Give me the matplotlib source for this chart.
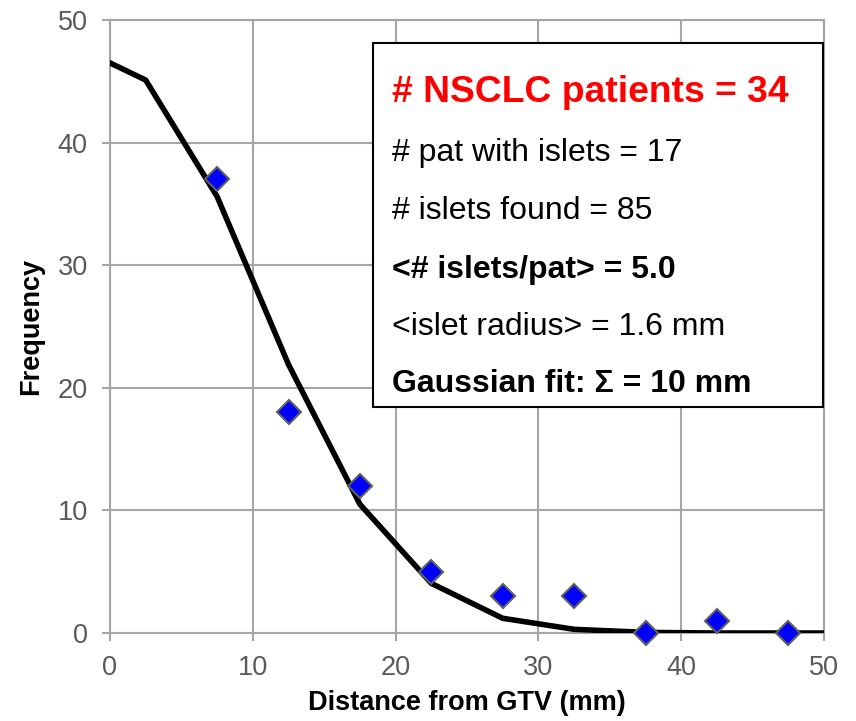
import matplotlib
matplotlib.use("Agg")
import matplotlib.pyplot as plt
from matplotlib.patches import Rectangle

plt.rcParams['font.family'] = ['Liberation Sans', 'DejaVu Sans']

# Gaussian fit line
fit_x = [0, 2.5, 7.5, 12.5, 17.5, 22.5, 27.5, 32.5, 37.5, 42.5, 47.5, 50]
fit_y = [46.5, 45.1, 35.6, 21.9, 10.5, 4.05, 1.2, 0.3, 0.05, 0.0, 0.0, 0.0]

# Measured frequencies
dist_x = [7.5, 12.5, 17.5, 22.5, 27.5, 32.5, 37.5, 42.5, 47.5]
freq_y = [37, 18, 12, 5, 3, 3, 0, 1, 0]

x_ticks = [0, 10, 20, 30, 40, 50]
y_ticks = [0, 10, 20, 30, 40, 50]

info_lines = [
    ("# NSCLC patients = 34", "bold", "#ff0000", 26.8),
    ("# pat with islets = 17", "normal", "black", 23),
    ("# islets found = 85", "normal", "black", 23),
    ("<# islets/pat> = 5.0", "bold", "black", 23),
    ("<islet radius> = 1.6 mm", "normal", "black", 23),
    ("Gaussian fit: \u03a3 = 10 mm", "bold", "black", 23),
]

fig = plt.figure(figsize=(8.56, 7.21), dpi=100)
ax = fig.add_axes([110/856, 88/721, 714/856, 613/721])

grid_c = "#a6a6a6"
ax.set_xlim(0, 50)
ax.set_ylim(0, 50)
ax.set_xticks(x_ticks)
ax.set_yticks(y_ticks)
ax.grid(True, color=grid_c, linewidth=1.5, zorder=0)
ax.set_axisbelow(True)
for s in ax.spines.values():
    s.set_color(grid_c)
    s.set_linewidth(1.5)
ax.tick_params(axis='both', direction='out', length=6, width=1.5, color=grid_c,
               labelcolor="#595959", labelsize=19.5, pad=10)

ax.plot(fit_x, fit_y, color="black", linewidth=4.0, zorder=3, solid_joinstyle='miter')
ax.plot(dist_x, freq_y, linestyle='none', marker='D', markersize=12.5,
        markerfacecolor="#0000ff", markeredgecolor="#606060", markeredgewidth=1.5,
        zorder=4, clip_on=False)

ax.set_xlabel("Distance from GTV (mm)", fontsize=19.5, fontweight='bold', labelpad=6)
ax.set_ylabel("Frequency", fontsize=19.5, fontweight='bold', labelpad=10)

# info box (axes fraction)
bx0 = (373-110)/714
bx1 = (823-110)/714
by0 = (633-407)/613
by1 = (633-43)/613
ax.add_patch(Rectangle((bx0, by0), bx1-bx0, by1-by0, transform=ax.transAxes,
                       facecolor="white", edgecolor="black", linewidth=1.5, zorder=5))
line_y_px = [92, 153, 211, 270, 327, 384]
tx = (392-110)/714
for (txt, w, c, fs), ypx in zip(info_lines, line_y_px):
    ax.text(tx, (633-ypx)/613, txt, transform=ax.transAxes, fontsize=fs,
            fontweight=w, color=c, ha='left', va='center', zorder=6)

fig.savefig("out.png", dpi=100)
